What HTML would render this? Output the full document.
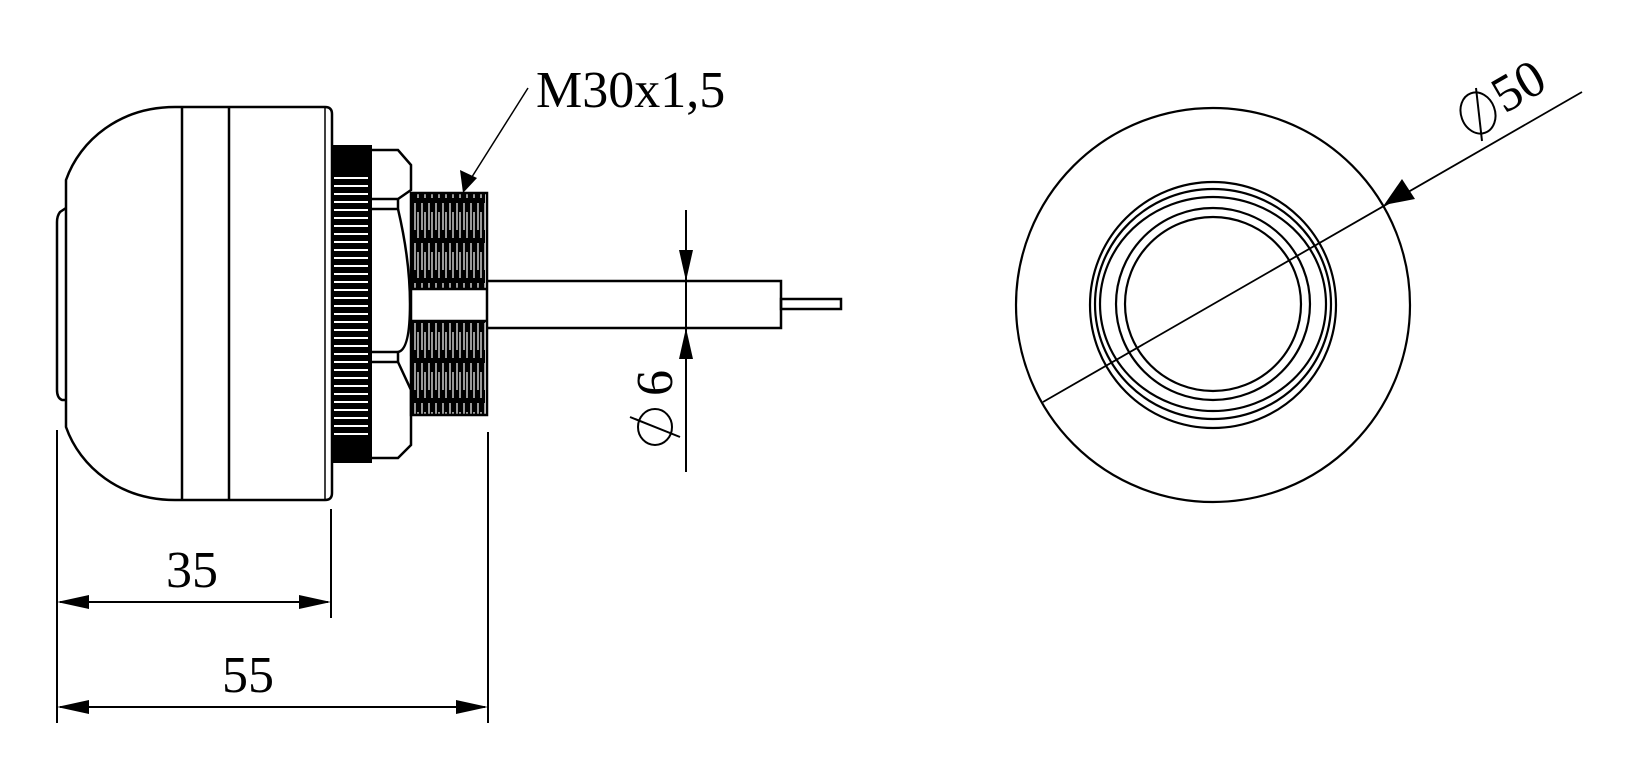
<!DOCTYPE html>
<html><head><meta charset="utf-8"><style>
html,body{margin:0;padding:0;background:#fff;}
svg{display:block;}
text{font-family:"Liberation Serif",serif;fill:#000;}
</style></head><body>
<svg width="1637" height="780" viewBox="0 0 1637 780" xmlns="http://www.w3.org/2000/svg">
<defs>
<pattern id="th" width="7" height="40" patternUnits="userSpaceOnUse">
<rect width="7" height="40" fill="#000"/>
<line x1="2" y1="3" x2="2" y2="30" stroke="#fff" stroke-width="1.2"/>
<line x1="5" y1="12" x2="5" y2="38" stroke="#fff" stroke-width="1.2"/>
</pattern>
</defs>
<g fill="none" stroke="#000" stroke-width="2.5">
<!-- body -->
<path d="M175,107 L325,107 Q332,107 332,114 L332,493 Q332,500 325,500 L175,500 C120,500 80,467 66,427 L66,180 C80,140 120,107 175,107 Z"/>
<line x1="182" y1="107" x2="182" y2="500"/>
<line x1="229" y1="107" x2="229" y2="500"/>
<line x1="325" y1="107" x2="325" y2="500" stroke-width="1.5"/>
<path d="M66,208 L60,212 Q57,216 57,222 L57,390 Q57,398 62,400 L66,400"/>
</g>
<!-- knurled ring -->
<rect x="332" y="145" width="40" height="318" fill="#000"/>
<g stroke="#fff" stroke-width="2">
<line x1="334" y1="178" x2="368" y2="178"/><line x1="334" y1="186" x2="368" y2="186"/><line x1="334" y1="194" x2="368" y2="194"/><line x1="334" y1="202" x2="368" y2="202"/><line x1="334" y1="210" x2="368" y2="210"/><line x1="334" y1="218" x2="368" y2="218"/><line x1="334" y1="226" x2="368" y2="226"/><line x1="334" y1="234" x2="368" y2="234"/><line x1="334" y1="242" x2="368" y2="242"/><line x1="334" y1="250" x2="368" y2="250"/><line x1="334" y1="258" x2="368" y2="258"/><line x1="334" y1="266" x2="368" y2="266"/><line x1="334" y1="274" x2="368" y2="274"/><line x1="334" y1="282" x2="368" y2="282"/><line x1="334" y1="290" x2="368" y2="290"/><line x1="334" y1="298" x2="368" y2="298"/><line x1="334" y1="306" x2="368" y2="306"/><line x1="334" y1="314" x2="368" y2="314"/><line x1="334" y1="322" x2="368" y2="322"/><line x1="334" y1="330" x2="368" y2="330"/><line x1="334" y1="338" x2="368" y2="338"/><line x1="334" y1="346" x2="368" y2="346"/><line x1="334" y1="354" x2="368" y2="354"/><line x1="334" y1="362" x2="368" y2="362"/><line x1="334" y1="370" x2="368" y2="370"/><line x1="334" y1="378" x2="368" y2="378"/><line x1="334" y1="386" x2="368" y2="386"/><line x1="334" y1="394" x2="368" y2="394"/><line x1="334" y1="402" x2="368" y2="402"/><line x1="334" y1="410" x2="368" y2="410"/><line x1="334" y1="418" x2="368" y2="418"/><line x1="334" y1="426" x2="368" y2="426"/><line x1="334" y1="434" x2="368" y2="434"/>
</g>
<!-- nut -->
<g fill="none" stroke="#000" stroke-width="2.5">
<path d="M372,150 L398,150 L411,165 L411,190 L398,199 L372,199"/>
<path d="M372,209 L398,209 L398,199"/>
<path d="M398,209 Q410,260 410,304 Q410,350 398,352"/>
<path d="M372,352 L398,352 L398,362 L372,362"/>
<path d="M398,362 L411,390 L411,445 L398,458 L372,458"/>
</g>
<!-- thread -->
<rect x="411" y="193" width="74" height="96" fill="url(#th)"/>
<rect x="411" y="321" width="74" height="94" fill="url(#th)"/>
<g fill="none" stroke="#000" stroke-width="2.5">
<rect x="411" y="193" width="76" height="222"/>
<line x1="411" y1="289" x2="487" y2="289"/>
<line x1="411" y1="321" x2="487" y2="321"/>
<!-- cable -->
<path d="M487,281 L781,281 L781,328 L487,328"/>
<rect x="781" y="299" width="60" height="10"/>
</g>
<!-- leader M30 -->
<line x1="528" y1="88" x2="470" y2="180" stroke="#000" stroke-width="1.5"/>
<polygon points="463,193 460,170 477,178" fill="#000"/>
<text x="536" y="107" font-size="52">M30x1,5</text>
<!-- phi 6 dim -->
<g stroke="#000" stroke-width="2">
<line x1="686" y1="210" x2="686" y2="472"/>
</g>
<polygon points="686,281 679,250 693,250" fill="#000"/>
<polygon points="686,328 679,359 693,359" fill="#000"/>
<ellipse cx="655" cy="427" rx="17" ry="18" fill="none" stroke="#000" stroke-width="2"/>
<line x1="630" y1="417" x2="680" y2="437" stroke="#000" stroke-width="2"/>
<text transform="translate(672,396) rotate(-90)" font-size="52">6</text>
<!-- 35 / 55 dims -->
<g stroke="#000" stroke-width="2">
<line x1="57" y1="430" x2="57" y2="723"/>
<line x1="331" y1="509" x2="331" y2="618"/>
<line x1="488" y1="432" x2="488" y2="723"/>
<line x1="60" y1="602" x2="328" y2="602"/>
<line x1="60" y1="707" x2="485" y2="707"/>
</g>
<polygon points="57,602 89,595 89,609" fill="#000"/>
<polygon points="331,602 299,595 299,609" fill="#000"/>
<polygon points="57,707 89,700 89,714" fill="#000"/>
<polygon points="488,707 456,700 456,714" fill="#000"/>
<text x="192" y="587" font-size="52" text-anchor="middle">35</text>
<text x="248" y="692" font-size="52" text-anchor="middle">55</text>
<!-- front view -->
<g fill="none" stroke="#000" stroke-width="2.2">
<circle cx="1213" cy="305" r="197"/>
<ellipse cx="1213" cy="305" rx="123" ry="123"/>
<ellipse cx="1213" cy="304" rx="118" ry="115"/>
<ellipse cx="1213" cy="304" rx="113" ry="107"/>
<ellipse cx="1213" cy="304" rx="97" ry="96"/>
<ellipse cx="1213" cy="304" rx="88" ry="87"/>
</g>
<line x1="1043" y1="402" x2="1582" y2="92" stroke="#000" stroke-width="1.8"/>
<polygon points="1384,205 1402,179 1415,199" fill="#000"/>
<ellipse cx="1478" cy="113" rx="17" ry="21" fill="none" stroke="#000" stroke-width="2" transform="rotate(-20 1478 113)"/>
<line x1="1476" y1="88" x2="1482" y2="141" stroke="#000" stroke-width="2"/>
<text transform="translate(1527,101) rotate(-30)" font-size="52" text-anchor="middle">50</text>
</svg>
</body></html>
